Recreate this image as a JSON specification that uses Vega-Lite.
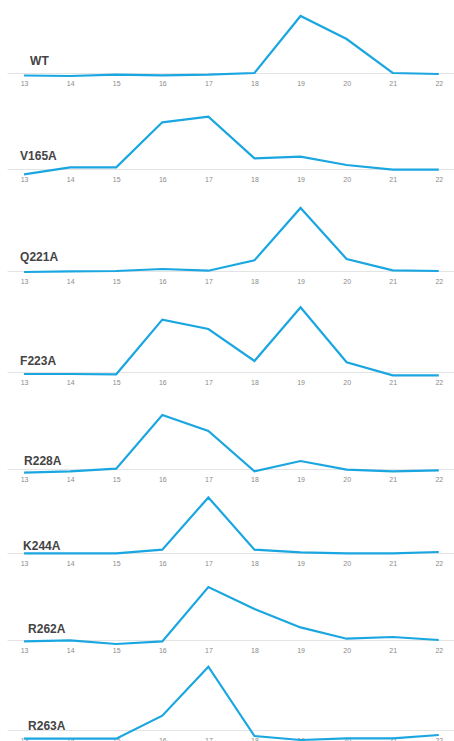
{
  "$schema": "https://vega.github.io/schema/vega-lite/v6.json",
  "padding": {"left": 7, "top": 0, "right": 0, "bottom": 0},
  "background": "white",
  "bounds": "flush",
  "spacing": 0,
  "data": {"values": [
    {"sample": "WT", "fraction": 13, "value": -2.5}, {"sample": "WT", "fraction": 14, "value": -3}, {"sample": "WT", "fraction": 15, "value": -1.7}, {"sample": "WT", "fraction": 16, "value": -2.3}, {"sample": "WT", "fraction": 17, "value": -1.7}, {"sample": "WT", "fraction": 18, "value": 0}, {"sample": "WT", "fraction": 19, "value": 57}, {"sample": "WT", "fraction": 20, "value": 34}, {"sample": "WT", "fraction": 21, "value": 0}, {"sample": "WT", "fraction": 22, "value": -1},
    {"sample": "V165A", "fraction": 13, "value": -5.3}, {"sample": "V165A", "fraction": 14, "value": 1.7}, {"sample": "V165A", "fraction": 15, "value": 1.7}, {"sample": "V165A", "fraction": 16, "value": 46.7}, {"sample": "V165A", "fraction": 17, "value": 52.3}, {"sample": "V165A", "fraction": 18, "value": 10.7}, {"sample": "V165A", "fraction": 19, "value": 12.3}, {"sample": "V165A", "fraction": 20, "value": 4}, {"sample": "V165A", "fraction": 21, "value": -0.7}, {"sample": "V165A", "fraction": 22, "value": -0.7},
    {"sample": "Q221A", "fraction": 13, "value": -1}, {"sample": "Q221A", "fraction": 14, "value": -0.3}, {"sample": "Q221A", "fraction": 15, "value": 0}, {"sample": "Q221A", "fraction": 16, "value": 2}, {"sample": "Q221A", "fraction": 17, "value": 0.3}, {"sample": "Q221A", "fraction": 18, "value": 10.7}, {"sample": "Q221A", "fraction": 19, "value": 63}, {"sample": "Q221A", "fraction": 20, "value": 12}, {"sample": "Q221A", "fraction": 21, "value": 0.7}, {"sample": "Q221A", "fraction": 22, "value": 0},
    {"sample": "F223A", "fraction": 13, "value": -2}, {"sample": "F223A", "fraction": 14, "value": -2}, {"sample": "F223A", "fraction": 15, "value": -2.3}, {"sample": "F223A", "fraction": 16, "value": 52.4}, {"sample": "F223A", "fraction": 17, "value": 43}, {"sample": "F223A", "fraction": 18, "value": 11}, {"sample": "F223A", "fraction": 19, "value": 64.7}, {"sample": "F223A", "fraction": 20, "value": 9.7}, {"sample": "F223A", "fraction": 21, "value": -3.3}, {"sample": "F223A", "fraction": 22, "value": -3.3},
    {"sample": "R228A", "fraction": 13, "value": -3.6}, {"sample": "R228A", "fraction": 14, "value": -2.3}, {"sample": "R228A", "fraction": 15, "value": 0.4}, {"sample": "R228A", "fraction": 16, "value": 54}, {"sample": "R228A", "fraction": 17, "value": 38}, {"sample": "R228A", "fraction": 18, "value": -2.3}, {"sample": "R228A", "fraction": 19, "value": 8}, {"sample": "R228A", "fraction": 20, "value": -0.6}, {"sample": "R228A", "fraction": 21, "value": -2.3}, {"sample": "R228A", "fraction": 22, "value": -1.3},
    {"sample": "K244A", "fraction": 13, "value": -0.4}, {"sample": "K244A", "fraction": 14, "value": -0.4}, {"sample": "K244A", "fraction": 15, "value": -0.4}, {"sample": "K244A", "fraction": 16, "value": 3.3}, {"sample": "K244A", "fraction": 17, "value": 55.6}, {"sample": "K244A", "fraction": 18, "value": 3.3}, {"sample": "K244A", "fraction": 19, "value": 0.6}, {"sample": "K244A", "fraction": 20, "value": -0.4}, {"sample": "K244A", "fraction": 21, "value": -0.4}, {"sample": "K244A", "fraction": 22, "value": 1},
    {"sample": "R262A", "fraction": 13, "value": -1.4}, {"sample": "R262A", "fraction": 14, "value": -0.4}, {"sample": "R262A", "fraction": 15, "value": -4}, {"sample": "R262A", "fraction": 16, "value": -1.4}, {"sample": "R262A", "fraction": 17, "value": 53}, {"sample": "R262A", "fraction": 18, "value": 31}, {"sample": "R262A", "fraction": 19, "value": 12.6}, {"sample": "R262A", "fraction": 20, "value": 1.3}, {"sample": "R262A", "fraction": 21, "value": 3}, {"sample": "R262A", "fraction": 22, "value": 0},
    {"sample": "R263A", "fraction": 13, "value": -8.7}, {"sample": "R263A", "fraction": 14, "value": -8.7}, {"sample": "R263A", "fraction": 15, "value": -8.7}, {"sample": "R263A", "fraction": 16, "value": 14.3}, {"sample": "R263A", "fraction": 17, "value": 63.3}, {"sample": "R263A", "fraction": 18, "value": -6}, {"sample": "R263A", "fraction": 19, "value": -10}, {"sample": "R263A", "fraction": 20, "value": -8.3}, {"sample": "R263A", "fraction": 21, "value": -8.3}, {"sample": "R263A", "fraction": 22, "value": -5}
  ]},
  "resolve": {"scale": {"x": "independent", "y": "independent"}},
  "vconcat": [
    {"width": 447, "height": 73, "transform": [{"filter": "datum.sample === 'WT'"}],
     "encoding": {"x": {"field": "fraction", "type": "quantitative", "scale": {"domain": [12.63, 22.33], "nice": false, "zero": false}, "axis": {"values": [13,14,15,16,17,18,19,20,21,22]}}, "y": {"field": "value", "type": "quantitative", "scale": {"domain": [0, 73], "nice": false, "zero": false}, "axis": null}},
     "layer": [
       {"mark": {"type": "line", "clip": false}},
       {"transform": [{"filter": "datum.fraction === 13"}], "mark": {"type": "text", "align": "left", "baseline": "middle", "dx": 6, "dy": -12}, "encoding": {"x": {"datum": 13}, "y": {"datum": 0}, "text": {"field": "sample"}}}
     ]},
    {"width": 447, "height": 96, "transform": [{"filter": "datum.sample === 'V165A'"}],
     "encoding": {"x": {"field": "fraction", "type": "quantitative", "scale": {"domain": [12.63, 22.33], "nice": false, "zero": false}, "axis": {"values": [13,14,15,16,17,18,19,20,21,22]}}, "y": {"field": "value", "type": "quantitative", "scale": {"domain": [0, 96], "nice": false, "zero": false}, "axis": null}},
     "layer": [
       {"mark": {"type": "line", "clip": false}},
       {"transform": [{"filter": "datum.fraction === 13"}], "mark": {"type": "text", "align": "left", "baseline": "middle", "dx": -4, "dy": -13}, "encoding": {"x": {"datum": 13}, "y": {"datum": 0}, "text": {"field": "sample"}}}
     ]},
    {"width": 447, "height": 102, "transform": [{"filter": "datum.sample === 'Q221A'"}],
     "encoding": {"x": {"field": "fraction", "type": "quantitative", "scale": {"domain": [12.63, 22.33], "nice": false, "zero": false}, "axis": {"values": [13,14,15,16,17,18,19,20,21,22]}}, "y": {"field": "value", "type": "quantitative", "scale": {"domain": [0, 102], "nice": false, "zero": false}, "axis": null}},
     "layer": [
       {"mark": {"type": "line", "clip": false}},
       {"transform": [{"filter": "datum.fraction === 13"}], "mark": {"type": "text", "align": "left", "baseline": "middle", "dx": -4, "dy": -14}, "encoding": {"x": {"datum": 13}, "y": {"datum": 0}, "text": {"field": "sample"}}}
     ]},
    {"width": 447, "height": 101, "transform": [{"filter": "datum.sample === 'F223A'"}],
     "encoding": {"x": {"field": "fraction", "type": "quantitative", "scale": {"domain": [12.63, 22.33], "nice": false, "zero": false}, "axis": {"values": [13,14,15,16,17,18,19,20,21,22]}}, "y": {"field": "value", "type": "quantitative", "scale": {"domain": [0, 101], "nice": false, "zero": false}, "axis": null}},
     "layer": [
       {"mark": {"type": "line", "clip": false}},
       {"transform": [{"filter": "datum.fraction === 13"}], "mark": {"type": "text", "align": "left", "baseline": "middle", "dx": -4, "dy": -11}, "encoding": {"x": {"datum": 13}, "y": {"datum": 0}, "text": {"field": "sample"}}}
     ]},
    {"width": 447, "height": 97, "transform": [{"filter": "datum.sample === 'R228A'"}],
     "encoding": {"x": {"field": "fraction", "type": "quantitative", "scale": {"domain": [12.63, 22.33], "nice": false, "zero": false}, "axis": {"values": [13,14,15,16,17,18,19,20,21,22]}}, "y": {"field": "value", "type": "quantitative", "scale": {"domain": [0, 97], "nice": false, "zero": false}, "axis": null}},
     "layer": [
       {"mark": {"type": "line", "clip": false}},
       {"transform": [{"filter": "datum.fraction === 13"}], "mark": {"type": "text", "align": "left", "baseline": "middle", "dx": 0, "dy": -8}, "encoding": {"x": {"datum": 13}, "y": {"datum": 0}, "text": {"field": "sample"}}}
     ]},
    {"width": 447, "height": 84, "transform": [{"filter": "datum.sample === 'K244A'"}],
     "encoding": {"x": {"field": "fraction", "type": "quantitative", "scale": {"domain": [12.63, 22.33], "nice": false, "zero": false}, "axis": {"values": [13,14,15,16,17,18,19,20,21,22]}}, "y": {"field": "value", "type": "quantitative", "scale": {"domain": [0, 84], "nice": false, "zero": false}, "axis": null}},
     "layer": [
       {"mark": {"type": "line", "clip": false}},
       {"transform": [{"filter": "datum.fraction === 13"}], "mark": {"type": "text", "align": "left", "baseline": "middle", "dx": -1, "dy": -7}, "encoding": {"x": {"datum": 13}, "y": {"datum": 0}, "text": {"field": "sample"}}}
     ]},
    {"width": 447, "height": 87, "transform": [{"filter": "datum.sample === 'R262A'"}],
     "encoding": {"x": {"field": "fraction", "type": "quantitative", "scale": {"domain": [12.63, 22.33], "nice": false, "zero": false}, "axis": {"values": [13,14,15,16,17,18,19,20,21,22]}}, "y": {"field": "value", "type": "quantitative", "scale": {"domain": [0, 87], "nice": false, "zero": false}, "axis": null}},
     "layer": [
       {"mark": {"type": "line", "clip": false}},
       {"transform": [{"filter": "datum.fraction === 13"}], "mark": {"type": "text", "align": "left", "baseline": "middle", "dx": 4, "dy": -11}, "encoding": {"x": {"datum": 13}, "y": {"datum": 0}, "text": {"field": "sample"}}}
     ]},
    {"width": 447, "height": 90, "transform": [{"filter": "datum.sample === 'R263A'"}],
     "encoding": {"x": {"field": "fraction", "type": "quantitative", "scale": {"domain": [12.63, 22.33], "nice": false, "zero": false}, "axis": {"values": [13,14,15,16,17,18,19,20,21,22]}}, "y": {"field": "value", "type": "quantitative", "scale": {"domain": [0, 90], "nice": false, "zero": false}, "axis": null}},
     "layer": [
       {"mark": {"type": "line", "clip": false}},
       {"transform": [{"filter": "datum.fraction === 13"}], "mark": {"type": "text", "align": "left", "baseline": "middle", "dx": 4, "dy": -4}, "encoding": {"x": {"datum": 13}, "y": {"datum": 0}, "text": {"field": "sample"}}}
     ]}
  ],
  "config": {
    "view": {"stroke": null},
    "line": {"color": "#1aa6e0", "strokeWidth": 2.2, "strokeJoin": "miter"},
    "text": {"font": "Liberation Sans", "fontSize": 12, "fontWeight": "bold", "color": "#444444"},
    "axisX": {"title": null, "grid": false, "ticks": false, "tickSize": 0, "domain": true, "domainColor": "#e4e4e4", "domainWidth": 1, "labelFont": "Liberation Sans", "labelFontSize": 7, "labelColor": "#8a8a8a", "labelPadding": 6, "format": "d", "labelFlush": false, "labelOverlap": false}
  }
}
